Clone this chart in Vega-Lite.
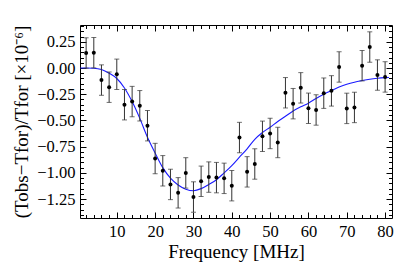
{
  "$schema": "https://vega.github.io/schema/vega-lite/v6.json",
  "width": 312,
  "height": 193,
  "autosize": {"type": "none"},
  "padding": {"left": 80, "top": 25, "right": 23, "bottom": 54},
  "background": "white",
  "config": {
    "view": {"stroke": "black", "strokeWidth": 1},
    "axis": {
      "labelFont": "Liberation Serif",
      "titleFont": "Liberation Serif",
      "labelFontSize": 16.5,
      "titleFontSize": 19,
      "titleFontWeight": "normal",
      "labelColor": "black",
      "titleColor": "black",
      "tickColor": "black",
      "domainColor": "black",
      "grid": false,
      "domain": false
    }
  },
  "datasets": {
    "obs": [
      {"f": 2, "v": 0.143, "lo": -0.002, "hi": 0.288},
      {"f": 4, "v": 0.146, "lo": 0.001, "hi": 0.291},
      {"f": 6, "v": -0.115, "lo": -0.26, "hi": 0.03},
      {"f": 8, "v": -0.183, "lo": -0.328, "hi": -0.038},
      {"f": 10, "v": -0.06, "lo": -0.205, "hi": 0.085},
      {"f": 12, "v": -0.35, "lo": -0.495, "hi": -0.205},
      {"f": 14, "v": -0.32, "lo": -0.465, "hi": -0.175},
      {"f": 16, "v": -0.36, "lo": -0.505, "hi": -0.215},
      {"f": 18, "v": -0.55, "lo": -0.695, "hi": -0.405},
      {"f": 20, "v": -0.863, "lo": -1.008, "hi": -0.718},
      {"f": 22, "v": -0.98, "lo": -1.125, "hi": -0.835},
      {"f": 24, "v": -1.11, "lo": -1.255, "hi": -0.965},
      {"f": 26, "v": -1.19, "lo": -1.335, "hi": -1.045},
      {"f": 28, "v": -1.0, "lo": -1.145, "hi": -0.855},
      {"f": 30, "v": -1.23, "lo": -1.375, "hi": -1.085},
      {"f": 32, "v": -1.08, "lo": -1.225, "hi": -0.935},
      {"f": 34, "v": -1.04, "lo": -1.185, "hi": -0.895},
      {"f": 36, "v": -1.045, "lo": -1.19, "hi": -0.9},
      {"f": 38, "v": -1.052, "lo": -1.197, "hi": -0.907},
      {"f": 40, "v": -1.122, "lo": -1.267, "hi": -0.977},
      {"f": 42, "v": -0.663, "lo": -0.808, "hi": -0.518},
      {"f": 44, "v": -0.99, "lo": -1.135, "hi": -0.845},
      {"f": 46, "v": -0.915, "lo": -1.06, "hi": -0.77},
      {"f": 48, "v": -0.651, "lo": -0.796, "hi": -0.506},
      {"f": 50, "v": -0.624, "lo": -0.769, "hi": -0.479},
      {"f": 52, "v": -0.71, "lo": -0.855, "hi": -0.565},
      {"f": 54, "v": -0.236, "lo": -0.381, "hi": -0.091},
      {"f": 56, "v": -0.34, "lo": -0.485, "hi": -0.195},
      {"f": 58, "v": -0.189, "lo": -0.334, "hi": -0.044},
      {"f": 60, "v": -0.384, "lo": -0.529, "hi": -0.239},
      {"f": 62, "v": -0.4, "lo": -0.545, "hi": -0.255},
      {"f": 64, "v": -0.24, "lo": -0.385, "hi": -0.095},
      {"f": 66, "v": -0.218, "lo": -0.363, "hi": -0.073},
      {"f": 68, "v": 0.01, "lo": -0.135, "hi": 0.155},
      {"f": 70, "v": -0.385, "lo": -0.53, "hi": -0.24},
      {"f": 72, "v": -0.376, "lo": -0.521, "hi": -0.231},
      {"f": 74, "v": 0.022, "lo": -0.123, "hi": 0.167},
      {"f": 76, "v": 0.2, "lo": 0.055, "hi": 0.345},
      {"f": 78, "v": -0.067, "lo": -0.212, "hi": 0.078},
      {"f": 80, "v": -0.085, "lo": -0.23, "hi": 0.06}
    ],
    "model": [
      {"f": 0.5, "v": 0.0},
      {"f": 2, "v": 0.0},
      {"f": 4, "v": -0.002},
      {"f": 6, "v": -0.015},
      {"f": 8, "v": -0.05},
      {"f": 10, "v": -0.1},
      {"f": 12, "v": -0.19},
      {"f": 14, "v": -0.32},
      {"f": 16, "v": -0.48},
      {"f": 18, "v": -0.66},
      {"f": 20, "v": -0.81},
      {"f": 22, "v": -0.95},
      {"f": 24, "v": -1.05},
      {"f": 26, "v": -1.115},
      {"f": 28, "v": -1.155},
      {"f": 30, "v": -1.17},
      {"f": 32, "v": -1.15},
      {"f": 34, "v": -1.11},
      {"f": 36, "v": -1.065},
      {"f": 38, "v": -1.0},
      {"f": 40, "v": -0.93},
      {"f": 42, "v": -0.85},
      {"f": 44, "v": -0.77},
      {"f": 46, "v": -0.68},
      {"f": 48, "v": -0.615},
      {"f": 50, "v": -0.565},
      {"f": 52, "v": -0.51},
      {"f": 54, "v": -0.46},
      {"f": 56, "v": -0.41},
      {"f": 58, "v": -0.37},
      {"f": 60, "v": -0.335},
      {"f": 62, "v": -0.29},
      {"f": 64, "v": -0.25},
      {"f": 66, "v": -0.215},
      {"f": 68, "v": -0.182},
      {"f": 70, "v": -0.155},
      {"f": 72, "v": -0.135},
      {"f": 74, "v": -0.12},
      {"f": 76, "v": -0.107},
      {"f": 78, "v": -0.098},
      {"f": 80, "v": -0.092},
      {"f": 81, "v": -0.09}
    ]
  },
  "resolve": {"axis": {"x": "independent", "y": "independent"}},
  "layer": [
    {
      "data": {"name": "model"},
      "mark": {"type": "line", "color": "#1a1aff", "strokeWidth": 1.1, "interpolate": "monotone", "clip": true},
      "encoding": {
        "x": {"field": "f", "type": "quantitative", "scale": {"domain": [0.4, 81.8], "nice": false, "zero": false},
              "axis": {"orient": "bottom", "title": "Frequency [MHz]", "values": [10, 20, 30, 40, 50, 60, 70, 80], "ticks": false, "labelPadding": 5, "titlePadding": 3, "labelFlush": false}},
        "y": {"field": "v", "type": "quantitative", "scale": {"domain": [-1.43, 0.41], "nice": false, "zero": false},
              "axis": {"orient": "left", "title": "(Tobs−Tfor)/Tfor [×10⁻⁶]", "values": [-1.25, -1, -0.75, -0.5, -0.25, 0, 0.25], "format": ".2f", "ticks": false, "labelPadding": 5, "titlePadding": 5, "labelFlush": false}}
      }
    },
    {
      "data": {"name": "obs"},
      "mark": {"type": "rule", "color": "#333333", "strokeWidth": 1},
      "encoding": {
        "x": {"field": "f", "type": "quantitative",
              "axis": {"orient": "bottom", "title": null, "labels": false, "values": [10, 20, 30, 40, 50, 60, 70, 80], "tickSize": -6}},
        "y": {"field": "lo", "type": "quantitative",
              "axis": {"orient": "left", "title": null, "labels": false, "values": [-1.25, -1, -0.75, -0.5, -0.25, 0, 0.25], "tickSize": -6}},
        "y2": {"field": "hi"}
      }
    },
    {
      "data": {"name": "obs"},
      "mark": {"type": "tick", "orient": "horizontal", "color": "#333333", "size": 5, "thickness": 1},
      "encoding": {
        "x": {"field": "f", "type": "quantitative",
              "axis": {"orient": "bottom", "title": null, "labels": false, "values": [2, 4, 6, 8, 12, 14, 16, 18, 22, 24, 26, 28, 32, 34, 36, 38, 42, 44, 46, 48, 52, 54, 56, 58, 62, 64, 66, 68, 72, 74, 76, 78], "tickSize": -3.5}},
        "y": {"field": "lo", "type": "quantitative",
              "axis": {"orient": "left", "title": null, "labels": false, "values": [-1.4, -1.35, -1.3, -1.2, -1.15, -1.1, -1.05, -0.95, -0.9, -0.85, -0.8, -0.7, -0.65, -0.6, -0.55, -0.45, -0.4, -0.35, -0.3, -0.2, -0.15, -0.1, -0.05, 0.05, 0.1, 0.15, 0.2, 0.3, 0.35, 0.4], "tickSize": -3.5}}
      }
    },
    {
      "data": {"name": "obs"},
      "mark": {"type": "tick", "orient": "horizontal", "color": "#333333", "size": 5, "thickness": 1},
      "encoding": {
        "x": {"field": "f", "type": "quantitative",
              "axis": {"orient": "top", "title": null, "labels": false, "values": [10, 20, 30, 40, 50, 60, 70, 80], "tickSize": -6}},
        "y": {"field": "hi", "type": "quantitative",
              "axis": {"orient": "right", "title": null, "labels": false, "values": [-1.25, -1, -0.75, -0.5, -0.25, 0, 0.25], "tickSize": -6}}
      }
    },
    {
      "data": {"name": "obs"},
      "mark": {"type": "point", "shape": "circle", "filled": true, "color": "black", "size": 16, "opacity": 1},
      "encoding": {
        "x": {"field": "f", "type": "quantitative",
              "axis": {"orient": "top", "title": null, "labels": false, "values": [2, 4, 6, 8, 12, 14, 16, 18, 22, 24, 26, 28, 32, 34, 36, 38, 42, 44, 46, 48, 52, 54, 56, 58, 62, 64, 66, 68, 72, 74, 76, 78], "tickSize": -3.5}},
        "y": {"field": "v", "type": "quantitative",
              "axis": {"orient": "right", "title": null, "labels": false, "values": [-1.4, -1.35, -1.3, -1.2, -1.15, -1.1, -1.05, -0.95, -0.9, -0.85, -0.8, -0.7, -0.65, -0.6, -0.55, -0.45, -0.4, -0.35, -0.3, -0.2, -0.15, -0.1, -0.05, 0.05, 0.1, 0.15, 0.2, 0.3, 0.35, 0.4], "tickSize": -3.5}}
      }
    }
  ]
}
